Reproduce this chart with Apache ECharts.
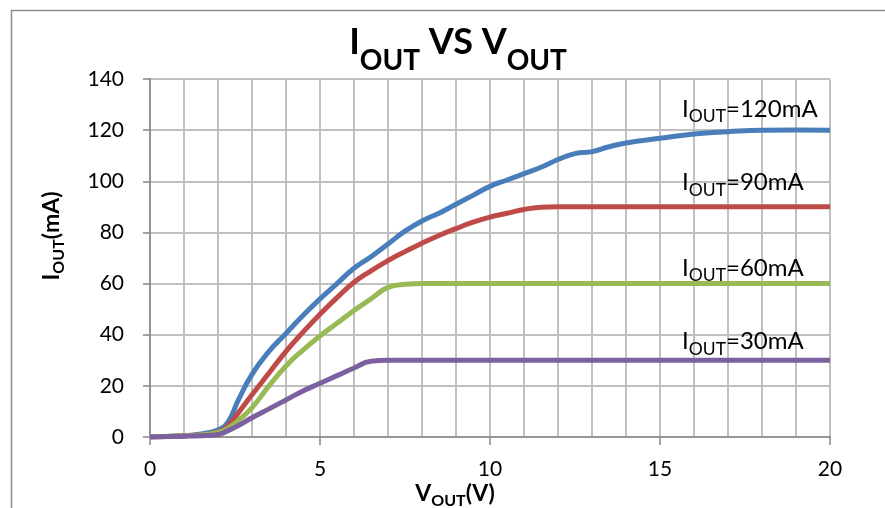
<!DOCTYPE html>
<html><head><meta charset="utf-8">
<script src="https://cdn.jsdelivr.net/npm/echarts@6/dist/echarts.min.js"></script>
<style>html,body{margin:0;padding:0;background:#fff}#c{width:885px;height:508px}</style>
</head><body><div id="c"></div>
<script>
// ---- data ----
const voltage = [0,1,1.5,2,2.3,2.6,3,3.5,4,4.5,5,5.5,6,6.5,7,7.5,8,8.5,9,9.5,10,10.5,11,11.5,12,12.5,13,13.5,14,15,16,17,18,19,20];
const iout120 = [0,0.5,1.2,2.8,6,14.5,24.5,33.5,40.5,47.5,54,60,66,70.5,75.5,80.5,84.5,87.5,91,94.5,98,100.5,103,105.5,108.5,110.8,111.6,113.5,115,116.8,118.5,119.4,120,120.1,120];
const iout90  = [0,0.5,0.9,2,4.5,9.5,16.5,25,33.5,41,48,54.5,60.5,65,69,72.5,75.8,78.8,81.5,84,86,87.5,89,89.8,90,90,90,90,90,90,90,90,90,90,90];
const iout60  = [0,0.5,0.8,1.8,3.5,6.5,11.5,20,27.8,34,39.5,44.5,49.5,54,58.5,59.7,60,60,60,60,60,60,60,60,60,60,60,60,60,60,60,60,60,60,60];
const iout30  = [0,0.3,0.5,1,2.5,4.5,7.5,11,14.5,18,21,24,27,29.6,30,30,30,30,30,30,30,30,30,30,30,30,30,30,30,30,30,30,30,30,30];
const seriesNames = ['120mA','90mA','60mA','30mA'];
const xTickValues = [0,5,10,15,20];
const yTickValues = [0,20,40,60,80,100,120,140];

// ---- chart ----
const FONT = 'Lato, "Noto Sans", sans-serif';
const colors = ['#4A7EBB','#BE4B48','#98B954','#7D60A0'];
const values = [iout120, iout90, iout60, iout30];
const labelAnchors = [128.3, 99.5, 66.1, 37.3];

const labelRich = {
  b: {fontFamily: FONT, fontSize: 24, color: '#000', lineHeight: 33, verticalAlign: 'middle'},
  s: {fontFamily: FONT, fontSize: 17.5, color: '#000', lineHeight: 18, verticalAlign: 'bottom'}
};

const series = values.map((vals, k) => ({
  name: seriesNames[k],
  type: 'line',
  data: voltage.map((v, j) => [v, vals[j]]),
  showSymbol: false,
  symbol: 'none',
  smooth: 0.5,
  lineStyle: {color: colors[k], width: 5},
  itemStyle: {color: colors[k]},
  z: 3 + k,
  markPoint: {
    symbol: 'circle',
    symbolSize: 0,
    silent: true,
    animation: false,
    label: {
      show: true,
      position: 'right',
      distance: 0,
      formatter: '{b|I}{s|OUT}{b|=' + seriesNames[k] + '}',
      rich: labelRich
    },
    data: [{coord: [15.65, labelAnchors[k]]}]
  }
}));

const chart = echarts.init(document.getElementById('c'), null, {renderer: 'canvas'});
chart.setOption({
  animation: false,
  backgroundColor: '#fff',
  textStyle: {fontFamily: FONT},
  grid: {left: 150, right: 55, top: 79, bottom: 71, containLabel: false},
  xAxis: {
    type: 'value', min: 0, max: 20, interval: 5,
    axisLine: {show: true, lineStyle: {color: '#868686', width: 1.5}},
    axisTick: {show: true, length: 8, lineStyle: {color: '#868686', width: 1.5}},
    axisLabel: {fontSize: 21, color: '#000', margin: 22, fontFamily: FONT,
      formatter: v => xTickValues.includes(v) ? String(v) : ''},
    splitLine: {show: true, lineStyle: {color: '#c0c0c0', width: 2}},
    minorTick: {show: false, splitNumber: 5},
    minorSplitLine: {show: true, lineStyle: {color: '#c0c0c0', width: 2}}
  },
  yAxis: {
    type: 'value', min: 0, max: 140, interval: 20,
    axisLine: {show: true, lineStyle: {color: '#868686', width: 1.5}},
    axisTick: {show: true, length: 7, lineStyle: {color: '#868686', width: 1.5}},
    axisLabel: {fontSize: 21, color: '#000', margin: 26, fontFamily: FONT,
      formatter: v => yTickValues.includes(v) ? String(v) : ''},
    splitLine: {show: true, lineStyle: {color: '#c0c0c0', width: 2}}
  },
  series: series,
  graphic: [
    {type: 'rect', left: 9, top: 8, silent: true, z: -1,
      shape: {x: 0, y: 0, width: 900, height: 520},
      style: {fill: 'none', stroke: '#8c8c8c', lineWidth: 1.5}},
    {type: 'text', x: 458, y: 42.5, silent: true, z: 10,
      style: {
        text: '{b|I}{s|OUT}{b| VS V}{s|OUT}',
        align: 'center', verticalAlign: 'middle',
        rich: {
          b: {fontFamily: FONT, fontSize: 36, fontWeight: 'bold', fill: '#000', lineHeight: 64, verticalAlign: 'middle'},
          s: {fontFamily: FONT, fontSize: 28, fontWeight: 'bold', fill: '#000', lineHeight: 28, verticalAlign: 'bottom'}
        }
      }},
    {type: 'text', x: 52, y: 236, rotation: Math.PI / 2, silent: true, z: 10,
      style: {
        text: '{b|I}{s|OUT}{b|(mA)}',
        align: 'center', verticalAlign: 'middle',
        rich: {
          b: {fontFamily: FONT, fontSize: 23, fontWeight: 'bold', fill: '#000', lineHeight: 30, verticalAlign: 'middle'},
          s: {fontFamily: FONT, fontSize: 16, fontWeight: 'bold', fill: '#000', lineHeight: 16, verticalAlign: 'bottom'}
        }
      }},
    {type: 'text', x: 455, y: 494, silent: true, z: 10,
      style: {
        text: '{b|V}{s|OUT}{b|(V)}',
        align: 'center', verticalAlign: 'middle',
        rich: {
          b: {fontFamily: FONT, fontSize: 23, fontWeight: 'bold', fill: '#000', lineHeight: 30, verticalAlign: 'middle'},
          s: {fontFamily: FONT, fontSize: 16, fontWeight: 'bold', fill: '#000', lineHeight: 16, verticalAlign: 'bottom'}
        }
      }}
  ]
});
</script>
</body></html>
